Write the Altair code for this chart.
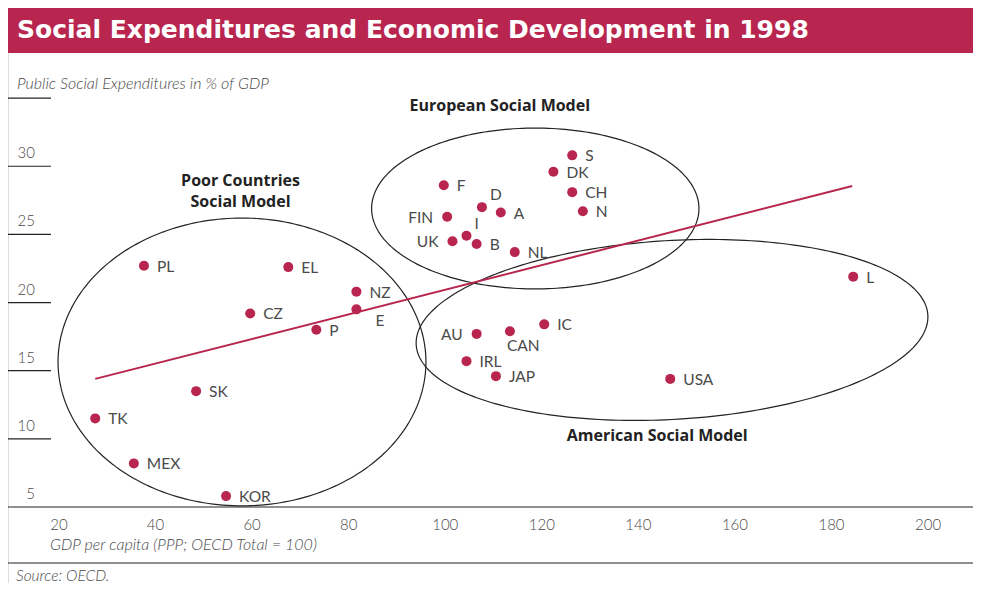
import altair as alt
import pandas as pd
import numpy as np

# ---------------- data ----------------
countries = ["S", "DK", "CH", "N", "F", "D", "A", "FIN", "I", "UK", "B", "NL",
             "AU", "CAN", "IC", "IRL", "JAP", "USA", "L",
             "PL", "EL", "NZ", "E", "CZ", "P", "SK", "TK", "MEX", "KOR"]
gdp = [126.3, 122.4, 126.3, 128.5, 99.7, 107.6, 111.5, 100.4, 104.4, 101.5, 106.5, 114.4,
       106.5, 113.4, 120.5, 104.4, 110.5, 146.6, 184.5,
       37.6, 67.5, 81.6, 81.6, 59.6, 73.3, 48.4, 27.5, 35.5, 54.6]
social = [30.8, 29.6, 28.1, 26.7, 28.6, 27.0, 26.6, 26.3, 24.9, 24.5, 24.3, 23.7,
          17.7, 17.9, 18.4, 15.7, 14.6, 14.4, 21.9,
          22.7, 22.6, 20.8, 19.5, 19.2, 18.0, 13.5, 11.5, 8.2, 5.8]
# where the country label sits relative to its dot
label_side = ["r", "r", "r", "r", "r", "a", "r", "l", "a", "l", "r", "r",
              "l", "b", "r", "r", "r", "r", "r",
              "r", "r", "r", "br", "r", "r", "r", "r", "r", "r"]

trend_gdp = [27.5, 184.3]
trend_social = [14.4, 28.55]

group_names = ["European", "American", "Poor"]
group_cx = [118.65, 146.97, 57.9]
group_cy = [26.9, 17.99, 15.64]
group_rx = [33.9, 53.0, 38.1]
group_ry = [5.9, 6.57, 10.56]
group_tilt = [0.0, 0.018, 0.0]

x_ticks = [20, 40, 60, 80, 100, 120, 140, 160, 180, 200]
y_tick_labels = [5, 10, 15, 20, 25, 30]
y_tick_lines = [10, 15, 20, 25, 30, 35]

TITLE = "Social Expenditures and Economic Development in 1998"
Y_TITLE = "Public Social Expenditures in % of GDP"
X_TITLE = "GDP per capita (PPP; OECD Total = 100)"
SOURCE = "Source: OECD."

# ---------------- styling ----------------
RED = "#B8264F"
GREY = "#4a4a4a"
W, H = 965, 575
FONT = "Lato"

xs = alt.Scale(domain=[9.437, 209.31], nice=False, zero=False)
ys = alt.Scale(domain=[-0.576, 41.61], nice=False, zero=False)

df = pd.DataFrame({"country": countries, "gdp": gdp, "social": social, "side": label_side})

# ellipse outlines built from centre / radii
rows = []
t = np.linspace(0, 2 * np.pi, 241)
for n, cx, cy, rx, ry, k in zip(group_names, group_cx, group_cy, group_rx, group_ry, group_tilt):
    ex = cx + rx * np.cos(t)
    ey = cy + ry * np.sin(t) + k * (ex - cx)
    for i, (a, b) in enumerate(zip(ex, ey)):
        rows.append({"name": n, "i": i, "gx": a, "gy": b})
ell = pd.DataFrame(rows)

one = pd.DataFrame({"k": [0]})

def X(f):
    return alt.X(f, scale=xs, axis=None)

def Y(f):
    return alt.Y(f, scale=ys, axis=None)

layers = []

# title bar
layers.append(alt.Chart(one).mark_rect(color=RED).encode(
    x=alt.value(0), x2=alt.value(W), y=alt.value(0), y2=alt.value(45)))
layers.append(alt.Chart(pd.DataFrame({"t": [TITLE]})).mark_text(
    align="left", baseline="alphabetic", font="DejaVu Sans", fontWeight="bold",
    fontSize=25, color="white").encode(text="t:N", x=alt.value(9), y=alt.value(30)))

# y-axis title
layers.append(alt.Chart(pd.DataFrame({"t": [Y_TITLE]})).mark_text(
    align="left", baseline="alphabetic", font=FONT, fontStyle="italic", fontWeight=300,
    fontSize=16, color=GREY).encode(text="t:N", x=alt.value(9), y=alt.value(81)))

# y ticks (short lines) and labels
layers.append(alt.Chart(pd.DataFrame({"v": y_tick_lines})).mark_rule(
    color="#222", strokeWidth=1.2).encode(y=Y("v:Q"), x=alt.value(0), x2=alt.value(43)))
layers.append(alt.Chart(pd.DataFrame({"v": y_tick_labels})).mark_text(
    align="right", baseline="alphabetic", dy=-8, font=FONT, fontWeight=300,
    fontSize=15, color=GREY).encode(y=Y("v:Q"), x=alt.value(27), text="v:Q"))

# x baseline, labels, title, bottom rule, source
layers.append(alt.Chart(one).mark_rule(color="#222", strokeWidth=1.2).encode(
    y=alt.Y(datum=5, scale=ys, axis=None), x=alt.value(0), x2=alt.value(W)))
layers.append(alt.Chart(pd.DataFrame({"v": x_ticks})).mark_text(
    align="center", baseline="alphabetic", font=FONT, fontWeight=300,
    fontSize=15, color=GREY).encode(x=X("v:Q"), y=alt.value(522), text="v:Q"))
layers.append(alt.Chart(pd.DataFrame({"t": [X_TITLE]})).mark_text(
    align="left", baseline="alphabetic", font=FONT, fontStyle="italic", fontWeight=300,
    fontSize=16, color=GREY).encode(text="t:N", x=alt.value(42), y=alt.value(542)))
layers.append(alt.Chart(one).mark_rule(color="#222", strokeWidth=1.2).encode(
    y=alt.value(555), x=alt.value(0), x2=alt.value(W)))
layers.append(alt.Chart(pd.DataFrame({"t": [SOURCE]})).mark_text(
    align="left", baseline="alphabetic", font=FONT, fontStyle="italic", fontWeight=300,
    fontSize=15.5, color=GREY).encode(text="t:N", x=alt.value(8), y=alt.value(573)))

# ellipses
layers.append(alt.Chart(ell).mark_line(color="#222", strokeWidth=1.2).encode(
    x=X("gx:Q"), y=Y("gy:Q"), detail="name:N", order="i:Q"))

# trend line
layers.append(alt.Chart(pd.DataFrame({"gdp": trend_gdp, "social": trend_social})).mark_line(
    color=RED, strokeWidth=2).encode(x=X("gdp:Q"), y=Y("social:Q")))

# points
layers.append(alt.Chart(df).mark_circle(size=100, color=RED, opacity=1).encode(
    x=X("gdp:Q"), y=Y("social:Q")))

# country labels
side_style = {
    "r": dict(align="left", dx=13, dy=1),
    "l": dict(align="right", dx=-14, dy=1),
    "a": dict(align="left", dx=8, dy=-12),
    "b": dict(align="left", dx=-3, dy=15),
    "br": dict(align="left", dx=19, dy=12),
}
for s, st in side_style.items():
    layers.append(alt.Chart(df).transform_filter(alt.datum.side == s).mark_text(
        baseline="middle", font=FONT, fontSize=15.5, color=GREY, **st).encode(
        x=X("gdp:Q"), y=Y("social:Q"), text="country:N"))

# group labels
def group_label(text, gx, gy):
    return alt.Chart(pd.DataFrame({"t": [text]})).mark_text(
        align="center", baseline="alphabetic", font="Open Sans", fontWeight="bold",
        fontSize=16, color="#222").encode(
        text="t:N", x=alt.X(datum=gx, scale=xs, axis=None),
        y=alt.Y(datum=gy, scale=ys, axis=None))

layers.append(group_label("European Social Model", 111.3, 34.05))
layers.append(group_label("Poor Countries", 57.6, 28.55))
layers.append(group_label("Social Model", 57.6, 27.0))
layers.append(group_label("American Social Model", 143.9, 9.85))

chart = alt.layer(*layers).properties(
    width=W, height=H, autosize=alt.AutoSizeParams(type="none"), padding=0
).configure_view(stroke=None).configure(background="white")

chart.save("out.html", embed_options={"renderer": "svg", "actions": False})
